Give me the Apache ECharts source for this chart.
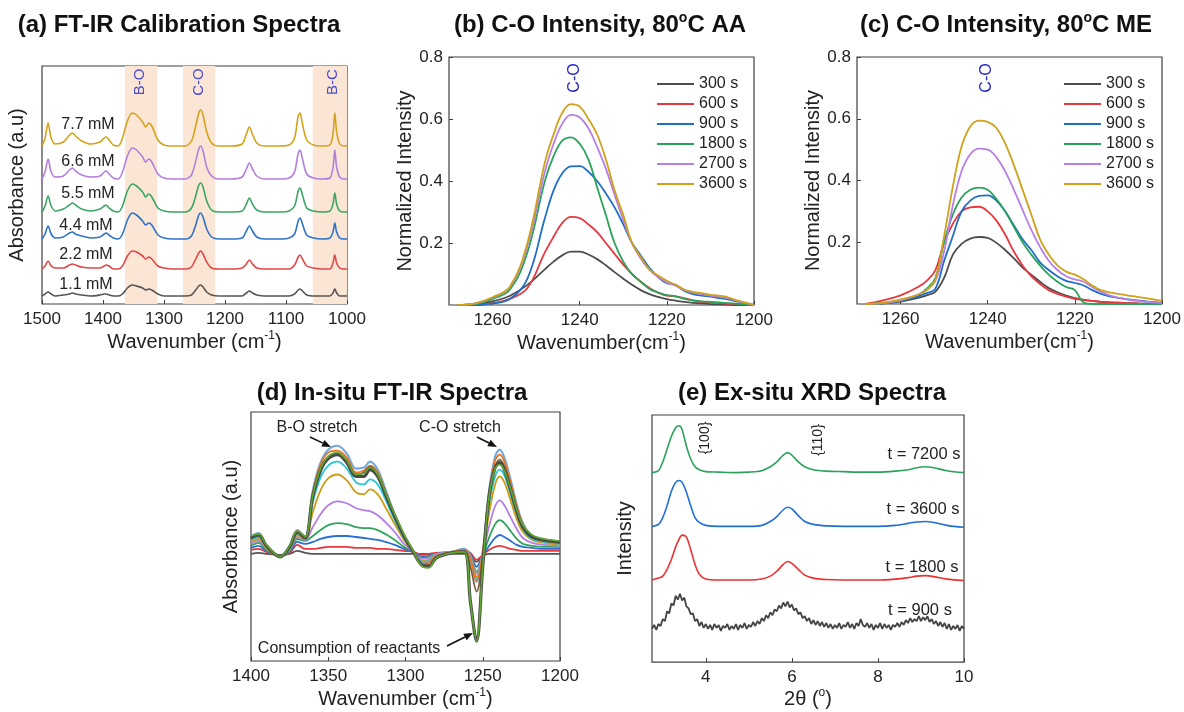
<!DOCTYPE html>
<html><head><meta charset="utf-8">
<script src="https://cdn.jsdelivr.net/npm/echarts@6/dist/echarts.min.js"></script>
<style>html,body{margin:0;padding:0;background:#fff}#c{width:1184px;height:712px}</style>
</head><body><div id="c"></div>
<script>
// ---------- (a) FT-IR calibration spectra ----------
const wnA = [1500,1495,1490,1485,1478,1465,1455,1450,1445,1435,1420,1405,1398,1395,1390,1383,1375,1368,1360,1352,1345,1335,1330,1325,1320,1310,1300,1285,1265,1255,1248,1243,1240,1236,1230,1222,1210,1190,1172,1165,1160,1155,1148,1135,1110,1095,1086,1080,1077,1073,1066,1055,1040,1028,1023,1020,1017,1012,1005,1000];
const concLabels = ['1.1 mM','2.2 mM','4.4 mM','5.5 mM','6.6 mM','7.7 mM'];
const offsetsA = [8,35,65,92,125,158];
const absA_1_1 = [0,2,4,2,0,1,2,3,2,1,0,1,2,2,1,0,0,2,8,11,10,8,6,7,6,2,0,0,0,1,6,10,11,9,4,1,0,0,0,3,5,3,1,0,0,0,2,6,7,5,1,0,0,0,3,7,3,0,0,0];
const absA_2_2 = [0,3,8,3,1,1,4,5,4,2,1,1,3,4,3,0,0,3,13,18,17,13,10,12,10,3,1,0,0,2,10,16,18,15,7,1,0,0,1,5,9,5,1,0,0,0,4,12,14,10,3,1,0,0,6,14,6,1,0,0];
const absA_4_4 = [0,5,13,5,1,2,6,7,5,3,1,2,5,6,4,1,0,5,19,26,24,18,14,16,14,4,1,0,0,3,14,24,26,22,10,2,0,0,1,8,13,8,2,0,0,1,5,18,21,15,4,1,0,1,7,16,7,1,0,0];
const absA_5_5 = [0,6,16,6,1,3,7,9,7,3,1,3,6,7,4,1,0,6,21,28,26,20,15,18,15,4,1,0,0,4,16,27,29,25,11,2,0,0,1,8,14,8,2,0,0,1,6,21,24,17,4,1,0,1,8,19,8,1,0,0];
const absA_6_6 = [0,7,20,7,2,3,9,11,8,4,2,3,7,8,5,1,0,7,23,31,29,22,17,20,17,5,1,0,0,4,18,30,33,28,12,3,0,0,2,10,16,10,3,0,0,1,7,26,29,20,5,1,0,1,11,29,12,2,0,0];
const absA_7_7 = [0,8,23,8,2,4,11,13,10,5,2,4,8,9,6,1,0,8,25,33,31,24,19,23,20,6,1,0,0,5,20,33,36,31,14,3,0,0,2,12,19,12,3,0,0,1,8,30,33,22,6,1,0,1,12,33,14,2,0,0];
const bandsA = [[1364,1311],[1269,1216],[1056,1000]];
const bandNamesA = ['B-O','C-O','B-C'];
const ticksA = [1500,1400,1300,1200,1100,1000];

// ---------- (b) C-O intensity 80C AA ----------
const timeLabels = ['300 s','600 s','900 s','1800 s','2700 s','3600 s'];
const wnB = [1268,1264,1260,1256,1252,1248,1246,1244,1242,1240,1238,1236,1234,1232,1230,1228,1226,1224,1222,1220,1218,1216,1214,1212,1210,1208,1206,1204,1202,1200];
const aa300  = [0,0.003,0.012,0.03,0.065,0.115,0.14,0.16,0.172,0.172,0.163,0.148,0.128,0.106,0.085,0.065,0.048,0.035,0.026,0.019,0.014,0.01,0.007,0.005,0.003,0.002,0.001,0,0,0];
const aa600  = [0,0,0.006,0.02,0.055,0.17,0.22,0.265,0.284,0.28,0.26,0.235,0.2,0.165,0.13,0.1,0.075,0.055,0.04,0.03,0.028,0.022,0.015,0.01,0.008,0.006,0.004,0.003,0.001,0];
const aa900  = [0,0,0.005,0.02,0.085,0.28,0.37,0.425,0.447,0.448,0.43,0.4,0.36,0.315,0.26,0.2,0.16,0.12,0.09,0.07,0.065,0.045,0.035,0.03,0.027,0.022,0.018,0.012,0.006,0];
const aa1800 = [0,0.003,0.02,0.05,0.17,0.4,0.48,0.53,0.541,0.52,0.47,0.38,0.29,0.2,0.14,0.1,0.075,0.052,0.04,0.032,0.028,0.02,0.015,0.012,0.01,0.008,0.006,0.004,0.002,0];
const aa2700 = [0,0.005,0.024,0.058,0.19,0.43,0.52,0.585,0.613,0.605,0.57,0.51,0.44,0.355,0.275,0.2,0.15,0.113,0.09,0.073,0.062,0.048,0.04,0.035,0.03,0.027,0.022,0.014,0.007,0];
const aa3600 = [0,0.005,0.025,0.06,0.2,0.46,0.55,0.62,0.648,0.64,0.6,0.55,0.47,0.37,0.29,0.2,0.155,0.115,0.095,0.078,0.065,0.05,0.042,0.038,0.033,0.03,0.025,0.015,0.008,0];

// ---------- (c) C-O intensity 80C ME ----------
const wnC = [1268,1264,1260,1256,1254,1252,1250,1248,1246,1244,1242,1240,1238,1236,1234,1232,1230,1228,1226,1224,1222,1220,1218,1216,1214,1212,1210,1208,1206,1204,1202,1200];
const me300  = [0,0.002,0.008,0.02,0.028,0.04,0.085,0.16,0.195,0.212,0.217,0.214,0.198,0.175,0.148,0.118,0.095,0.072,0.052,0.038,0.027,0.019,0.014,0.01,0.007,0.005,0.004,0.003,0.002,0.001,0,0];
const me600  = [0,0.012,0.028,0.055,0.075,0.11,0.2,0.26,0.3,0.313,0.315,0.3,0.27,0.225,0.17,0.125,0.09,0.065,0.045,0.033,0.024,0.017,0.013,0.01,0.007,0.005,0.004,0.003,0.002,0.001,0,0];
const me900  = [0,0.002,0.01,0.025,0.035,0.05,0.14,0.22,0.3,0.335,0.35,0.352,0.335,0.3,0.255,0.21,0.175,0.135,0.11,0.09,0.075,0.068,0.06,0.045,0.033,0.025,0.02,0.015,0.012,0.009,0.006,0.004];
const me1800 = [0,0.003,0.012,0.03,0.05,0.085,0.2,0.29,0.345,0.37,0.377,0.37,0.34,0.3,0.25,0.2,0.16,0.125,0.095,0.072,0.055,0.045,0.005,0,0,0,0,0,0,0,0,0];
const me2700 = [0,0.003,0.012,0.03,0.045,0.075,0.17,0.32,0.43,0.485,0.503,0.5,0.475,0.43,0.37,0.305,0.24,0.185,0.14,0.11,0.09,0.08,0.072,0.055,0.04,0.028,0.02,0.015,0.011,0.008,0.005,0.003];
const me3600 = [0,0.004,0.015,0.03,0.045,0.08,0.22,0.38,0.51,0.575,0.594,0.59,0.57,0.52,0.45,0.37,0.29,0.21,0.16,0.125,0.105,0.095,0.08,0.06,0.045,0.038,0.033,0.028,0.024,0.02,0.015,0.01];
const ticksBC = [1260,1240,1220,1200];
const ticksY = [0.2,0.4,0.6,0.8];

// ---------- (d) in-situ FT-IR ----------
const wnD = [1400,1395,1390,1381,1375,1370,1365,1360,1355,1350,1344,1338,1332,1327,1323,1318,1313,1307,1301,1295,1289,1285,1280,1270,1262,1258,1254,1250,1246,1242,1239,1236,1232,1228,1224,1218,1210,1200];
const dGray   = [108,109,108,107,108,111,109,108,108,108,108,108,108,108,108,108,108,108,108,108,108,108,108,108,108,106,100,106,108,108,108,108,108,108,108,108,108,108];
const dRed    = [112,113,110,106,109,117,113,113,114,115,115,115,114,114,114,113,113,112,111,110,107,108,109,110,111,109,102,107,112,115,116,115,113,112,111,111,111,111];
const dBlue   = [114,116,111,106,110,120,118,120,123,125,126,126,125,124,123,122,120,117,113,110,105,106,108,110,112,108,95,106,116,124,127,125,121,117,115,114,113,113];
const dGreen  = [116,119,112,106,111,123,121,126,132,137,139,138,135,134,134,132,128,122,115,110,104,105,108,110,112,107,90,106,124,138,142,139,131,123,118,116,115,115];
const dPurple = [118,121,113,106,112,125,122,135,148,157,161,159,154,152,151,147,140,130,118,110,103,104,108,110,112,106,88,108,135,156,162,157,145,133,124,119,117,116];
const dGold   = [120,123,114,105,113,127,123,150,172,184,188,182,170,168,173,168,155,138,122,110,101,102,107,110,113,105,85,108,148,178,186,180,162,143,130,122,119,117];
const dCyan   = [122,125,115,105,114,129,124,160,185,197,201,194,180,178,183,178,163,142,124,110,100,101,107,110,113,104,83,109,158,186,193,187,168,148,133,123,120,118];
const dLBlue  = [126,129,117,105,116,132,125,172,200,213,217,209,194,195,201,193,173,148,127,111,99,100,107,110,113,103,80,110,170,206,213,205,183,158,139,126,122,120];
const dOrange = [125,128,116,105,115,131,124,170,198,210,212,205,190,192,197,190,171,147,126,110,98,99,106,110,112,103,81,110,168,202,208,201,180,156,138,125,121,119];
const dBrown  = [124,127,116,105,115,130,124,168,195,206,209,202,188,190,196,188,170,146,126,110,97,97,105,109,111,95,70,105,166,196,203,196,176,153,136,125,121,119];
const dDark   = [124,127,116,105,115,130,124,166,192,204,208,200,186,186,193,186,168,146,126,110,96,95,104,109,110,60,20,95,165,195,200,193,173,151,135,125,122,120];
const dLime   = [126,128,117,105,116,131,125,167,194,206,210,202,188,189,195,188,170,148,128,111,95,94,104,109,110,60,20,95,165,194,198,192,174,153,137,127,123,121];
const ticksD = [1400,1350,1300,1250,1200];

// ---------- (e) ex-situ XRD ----------
const tthE = [2.75,2.9,3.0,3.1,3.2,3.3,3.38,3.45,3.55,3.65,3.75,3.85,4.0,4.3,4.7,5.0,5.3,5.5,5.65,5.8,5.9,6.0,6.15,6.3,6.5,6.8,7.2,7.6,8.0,8.4,8.7,8.9,9.1,9.3,9.6,10];
const xrd7200 = [194,196,205,218,231,240,242,238,221,208,200,197,195,194.5,194,194.5,196,200,205,212,214.5,212,205,200,197,195.5,195,194.5,194.5,195.5,197,199,200,199,196,194];
const xrd3600 = [139,141,148,160,175,184,186,184,174,160,148,143,140,139,139,139,140,144,149,156,158.5,157,150,144,141,139.5,139,139,139,140,142,143.5,144,143,140,138];
const xrd1800 = [84,86,88,95,105,118,126,130,128,115,100,90,85,84,84,84,85,88,93,100,103,101,95,89,86,84.5,84,84,84,85,86.5,88,88.5,87.5,85,83.5];
const tthGray = [2.75,2.8,2.85,2.9,2.95,3.0,3.05,3.1,3.15,3.2,3.25,3.3,3.35,3.4,3.45,3.5,3.55,3.6,3.65,3.7,
  3.75,3.8,3.85,3.9,3.95,4.0,4.05,4.1,4.15,4.2,4.25,4.3,4.35,4.4,4.45,4.5,4.55,4.6,4.65,4.7,
  4.75,4.8,4.85,4.9,4.95,5.0,5.05,5.1,5.15,5.2,5.25,5.3,5.35,5.4,5.45,5.5,5.55,5.6,5.65,5.7,
  5.75,5.8,5.85,5.9,5.95,6.0,6.05,6.1,6.15,6.2,6.25,6.3,6.35,6.4,6.45,6.5,6.55,6.6,6.65,6.7,
  6.75,6.8,6.85,6.9,6.95,7.0,7.05,7.1,7.15,7.2,7.25,7.3,7.35,7.4,7.45,7.5,7.55,7.6,7.65,7.7,
  7.75,7.8,7.85,7.9,7.95,8.0,8.05,8.1,8.15,8.2,8.25,8.3,8.35,8.4,8.45,8.5,8.55,8.6,8.65,8.7,
  8.75,8.8,8.85,8.9,8.95,9.0,9.05,9.1,9.15,9.2,9.25,9.3,9.35,9.4,9.45,9.5,9.55,9.6,9.65,9.7,
  9.75,9.8,9.85,9.9,9.95,10.0];
const xrd900 = [34,38,33,39,37,44,42,52,50,60,58,68,64,70,63,66,57,55,49,50,
  42,44,37,41,35,39,34,38,33,39,35,38,32,37,35,39,33,37,34,39,
  33,38,35,40,34,38,36,41,37,42,39,45,42,48,45,51,48,54,52,58,
  55,61,57,62,56,59,53,55,49,51,45,47,42,45,39,43,38,42,37,41,
  36,40,35,39,34,38,35,40,34,38,36,41,35,39,34,40,37,44,38,36,
  40,35,39,33,38,35,40,34,39,35,38,33,38,36,40,36,41,38,43,40,
  45,41,44,42,47,42,46,43,47,41,44,39,42,37,41,36,40,34,39,33,
  37,34,38,32,37,34];
const xrdLabels = ['t = 7200 s','t = 3600 s','t = 1800 s','t = 900 s'];
const ticksE = [4,6,8,10];

// ---------- styling ----------
const FONT = '"Liberation Sans", Arial, sans-serif';
const colA = ['#555555','#e04848','#2f73c9','#3aa564','#b27fde','#d4a21a'];
const colT = ['#4d4d4d','#e8383d','#1f6fc8','#2aa35a','#b77fe6','#cfa21a'];
const zip = (xs, ys, off) => xs.map((x, i) => [x, ys[i] + (off || 0)]);

const grids = [
  {left:42, top:66, width:305, height:238},
  {left:449, top:57, width:305, height:248},
  {left:857, top:57, width:305, height:247},
  {left:251, top:412, width:309, height:251},
  {left:652, top:415, width:312, height:253}
].map(g => Object.assign({show:true, borderColor:'#404040', borderWidth:1.2, backgroundColor:'rgba(0,0,0,0)'}, g));

const supRich = {sup:{fontSize:12, fontFamily:FONT, color:'#222', verticalAlign:'top', lineHeight:12}};
function xAx(gi, min, max, inverse, ticks, name, gap) {
  return {type:'value', gridIndex:gi, min, max, inverse,
    axisLine:{show:false}, splitLine:{show:false},
    axisTick:{show:true, inside:true, length:4, customValues:ticks, lineStyle:{color:'#404040'}},
    axisLabel:{customValues:ticks, fontSize:17, color:'#222', margin:7, fontFamily:FONT, formatter:v => String(v)},
    name, nameLocation:'middle', nameGap:gap,
    nameTextStyle:{fontSize:20, color:'#222', fontFamily:FONT, lineHeight:24, rich:supRich}};
}
function yAx(gi, min, max, name, gap, ticks) {
  const o = {type:'value', gridIndex:gi, min, max,
    axisLine:{show:false}, splitLine:{show:false},
    name, nameLocation:'middle', nameGap:gap, nameRotate:90,
    nameTextStyle:{fontSize:20, color:'#222', fontFamily:FONT}};
  if (ticks) {
    o.axisTick = {show:true, inside:true, length:4, customValues:ticks, lineStyle:{color:'#404040'}};
    o.axisLabel = {customValues:ticks, fontSize:17, color:'#222', margin:6, fontFamily:FONT, formatter:v => v.toFixed(1)};
  } else {
    o.axisTick = {show:false}; o.axisLabel = {show:false};
  }
  return o;
}

const series = [];
// (a) shaded bands
series.push({type:'line', xAxisIndex:0, yAxisIndex:0, data:[], z:1, silent:true,
  markArea:{silent:true, itemStyle:{color:'#fbe6d6'}, data: bandsA.map(b => [{xAxis:b[0]},{xAxis:b[1]}])}});
const absA = [absA_1_1, absA_2_2, absA_4_4, absA_5_5, absA_6_6, absA_7_7];
absA.forEach((ys, k) => series.push({name:concLabels[k], type:'line', xAxisIndex:0, yAxisIndex:0, z:3,
  data: zip(wnA, ys, offsetsA[k]), symbol:'none', smooth:0.3, lineStyle:{width:1.6, color:colA[k]}, itemStyle:{color:colA[k]}}));
// (b)
[aa300, aa600, aa900, aa1800, aa2700, aa3600].forEach((ys, k) => series.push({name:timeLabels[k], type:'line', xAxisIndex:1, yAxisIndex:1,
  data: zip(wnB, ys), symbol:'none', smooth:0.4, lineStyle:{width:1.8, color:colT[k]}, itemStyle:{color:colT[k]}}));
// (c)
[me300, me600, me900, me1800, me2700, me3600].forEach((ys, k) => series.push({name:timeLabels[k], type:'line', xAxisIndex:2, yAxisIndex:2,
  data: zip(wnC, ys), symbol:'none', smooth:0.4, lineStyle:{width:1.8, color:colT[k]}, itemStyle:{color:colT[k]}}));
// (d)
const dSets = [
  ['d-gray', dGray, '#555555', 1.8], ['d-red', dRed, '#e8383d', 1.8], ['d-blue', dBlue, '#2a6fd6', 1.8],
  ['d-green', dGreen, '#2ea55a', 1.8], ['d-purple', dPurple, '#b47fe5', 1.8], ['d-gold', dGold, '#d09a12', 1.8],
  ['d-cyan', dCyan, '#25c6d0', 1.8], ['d-lblue', dLBlue, '#74a9e0', 2.2], ['d-orange', dOrange, '#f0741e', 1.8],
  ['d-brown', dBrown, '#7b5a3c', 1.8], ['d-dark', dDark, '#4a4a4a', 3.2], ['d-lime', dLime, '#5fa82e', 1.6]
];
dSets.forEach(s => series.push({name:s[0], type:'line', xAxisIndex:3, yAxisIndex:3,
  data: zip(wnD, s[1]), symbol:'none', smooth:0.35, lineStyle:{width:s[3], color:s[2]}, itemStyle:{color:s[2]}}));
// (e)
[[xrdLabels[0], tthE, xrd7200, '#2aa35a'], [xrdLabels[1], tthE, xrd3600, '#1f6fd6'],
 [xrdLabels[2], tthE, xrd1800, '#ee3030'], [xrdLabels[3], tthGray, xrd900, '#444444']].forEach(s =>
  series.push({name:s[0], type:'line', xAxisIndex:4, yAxisIndex:4, data: zip(s[1], s[2]), symbol:'none',
    smooth: s[3] === '#444444' ? false : 0.3, lineStyle:{width: s[3] === '#444444' ? 1.8 : 1.6, color:s[3]}, itemStyle:{color:s[3]}}));

// ---------- annotations ----------
function txt(x, y, text, size, opts) {
  return Object.assign({type:'text', x, y, z:100, style:Object.assign({text, fontSize:size, fontFamily:FONT, fill:'#222', align:'center', verticalAlign:'middle'}, (opts && opts.style) || {})},
    opts && opts.rotation ? {rotation:opts.rotation} : {});
}
function title(x, y, text) {
  return {type:'text', x, y, z:100, style:{text, fontSize:24, fontWeight:'bold', fontFamily:FONT, fill:'#111', align:'center', verticalAlign:'middle', lineHeight:28,
    rich:{sup:{fontSize:14, fontWeight:'bold', fontFamily:FONT, fill:'#111', verticalAlign:'top', lineHeight:14}}}};
}
function arrow(x1, y1, x2, y2) {
  const dx = x2 - x1, dy = y2 - y1, L = Math.hypot(dx, dy), ux = dx / L, uy = dy / L, h = 9, w = 3.6;
  const bx = x2 - ux * h, by = y2 - uy * h;
  return [{type:'line', z:100, shape:{x1, y1, x2:bx, y2:by}, style:{stroke:'#111', lineWidth:1.5}},
          {type:'polygon', z:100, shape:{points:[[x2, y2], [bx - uy * w, by + ux * w], [bx + uy * w, by - ux * w]]}, style:{fill:'#111'}}];
}
const R = Math.PI / 2;
const graphic = [
  title(179, 25, '(a) FT-IR Calibration Spectra'),
  title(600, 25, '(b) C-O Intensity, 80{sup|o}C AA'),
  title(1006, 25, '(c) C-O Intensity, 80{sup|o}C ME'),
  title(392, 393, '(d) In-situ FT-IR Spectra'),
  title(812, 393, '(e) Ex-situ XRD Spectra'),
  txt(140, 82, bandNamesA[0], 15, {rotation:R, style:{fill:'#4b4bd0'}}),
  txt(199, 82, bandNamesA[1], 15, {rotation:R, style:{fill:'#4b4bd0'}}),
  txt(333, 82, bandNamesA[2], 15, {rotation:R, style:{fill:'#4b4bd0'}}),
  txt(575, 78, 'C-O', 16, {rotation:R, style:{fill:'#2323c8'}}),
  txt(987, 78, 'C-O', 16, {rotation:R, style:{fill:'#2323c8'}}),
  txt(88, 125, concLabels[5], 16), txt(88, 162, concLabels[4], 16), txt(88, 194, concLabels[3], 16),
  txt(86, 226, concLabels[2], 16), txt(86, 255, concLabels[1], 16), txt(86, 285, concLabels[0], 16),
  txt(317, 428, 'B-O stretch', 16), txt(460, 428, 'C-O stretch', 16), txt(349, 649, 'Consumption of reactants', 16),
  ...arrow(310, 437, 331, 447), ...arrow(477, 437, 497, 447), ...arrow(447, 646, 473, 633),
  txt(705, 438, '{100}', 14, {rotation:R}), txt(818, 440, '{110}', 14, {rotation:R}),
  txt(924, 454, xrdLabels[0], 16.5), txt(923, 509, xrdLabels[1], 16.5), txt(922, 567, xrdLabels[2], 16.5), txt(920, 610, xrdLabels[3], 16.5)
];

const legendBase = {orient:'vertical', top:69, icon:'rect', itemWidth:37, itemHeight:2, itemGap:0, data:timeLabels, selectedMode:false,
  textStyle:{fontSize:16, lineHeight:20, color:'#222', fontFamily:FONT}};

const option = {
  animation:false,
  backgroundColor:'#fff',
  textStyle:{fontFamily:FONT},
  grid:grids,
  xAxis:[
    xAx(0, 1000, 1500, true, ticksA, 'Wavenumber (cm{sup|-1})', 26),
    xAx(1, 1200, 1270, true, ticksBC, 'Wavenumber(cm{sup|-1})', 26),
    xAx(2, 1200, 1270, true, ticksBC, 'Wavenumber(cm{sup|-1})', 26),
    xAx(3, 1200, 1400, true, ticksD, 'Wavenumber (cm{sup|-1})', 26),
    xAx(4, 2.75, 10, false, ticksE, '2θ ({sup|o})', 24)
  ],
  yAxis:[
    yAx(0, 0, 238, 'Absorbance (a.u)', 15),
    yAx(1, 0, 0.8, 'Normalized Intensity', 32, ticksY),
    yAx(2, 0, 0.8, 'Normalized Intensity', 34, ticksY),
    yAx(3, 0, 251, 'Absorbance (a.u)', 10),
    yAx(4, 0, 253, 'Intensity', 17)
  ],
  legend:[Object.assign({left:652}, legendBase), Object.assign({left:1059}, legendBase)],
  series,
  graphic
};
const chart = echarts.init(document.getElementById('c'), null, {renderer:'canvas'});
chart.setOption(option);
</script>
</body></html>
